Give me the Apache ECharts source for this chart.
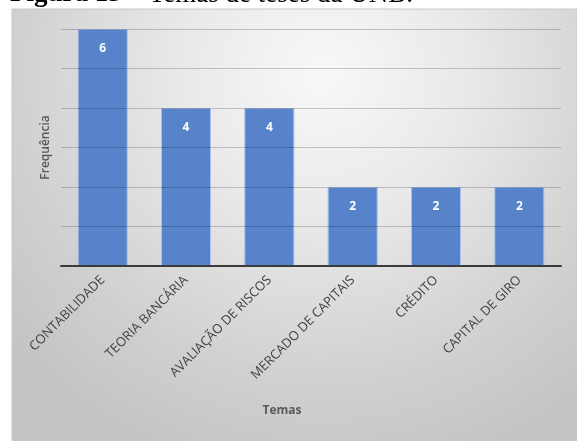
<!DOCTYPE html>
<html>
<head>
<meta charset="utf-8">
<script src="https://cdn.jsdelivr.net/npm/echarts@6/dist/echarts.min.js"></script>
<style>
  html, body { margin: 0; padding: 0; background: #ffffff; }
  #chart { width: 577px; height: 441px; }
</style>
</head>
<body>
<div id="chart"></div>
<script>
// Temas das teses e quantas vezes cada um aparece
const temas = ['CONTABILIDADE', 'TEORIA BANCÁRIA', 'AVALIAÇÃO DE RISCOS', 'MERCADO DE CAPITAIS', 'CRÉDITO', 'CAPITAL DE GIRO'];
const frequencia = [6, 4, 4, 2, 2, 2];

const chart = echarts.init(document.getElementById('chart'), null, { renderer: 'canvas' });

chart.setOption({
  animation: false,
  backgroundColor: '#ffffff',
  graphic: [
    {
      type: 'text',
      left: 10,
      top: -19,
      z: 10,
      style: {
        text: '{b|Figura 13} – Temas de teses da UNB.',
        font: '27px "Liberation Serif"',
        fill: '#000000',
        rich: {
          b: { fontFamily: 'Liberation Serif', fontSize: 27, fontWeight: 'bold', fill: '#000000' }
        }
      }
    },
    {
      type: 'rect',
      z: -10,
      shape: { x: 12, y: 9, width: 565, height: 432 },
      style: {
        fill: {
          type: 'radial', x: 0.55, y: 0.15, r: 0.95,
          colorStops: [
            { offset: 0, color: '#f8f8f8' },
            { offset: 0.35, color: '#e9e9e9' },
            { offset: 0.75, color: '#d0d0d0' },
            { offset: 1, color: '#c4c4c4' }
          ]
        },
        stroke: '#c8c8c8',
        lineWidth: 1
      }
    },
    {
      type: 'text',
      x: 282,
      y: 411,
      style: {
        text: 'Temas',
        font: 'bold 12px "Open Sans"',
        fill: '#595959',
        align: 'center',
        verticalAlign: 'middle'
      }
    }
  ],
  grid: { left: 61, right: 16, top: 29, bottom: 175, containLabel: false },
  xAxis: {
    type: 'category',
    data: temas,
    z: 4,
    axisLine: { lineStyle: { color: '#3a3a3a', width: 2 } },
    axisTick: { show: false },
    axisLabel: {
      rotate: 45,
      interval: 0,
      margin: 12,
      color: '#404040',
      fontSize: 13,
      fontFamily: 'Open Sans'
    }
  },
  yAxis: {
    type: 'value',
    min: 0,
    max: 6,
    interval: 1,
    z: 3,
    name: 'Frequência',
    nameLocation: 'middle',
    nameGap: 9,
    nameTextStyle: { color: '#595959', fontSize: 12, fontWeight: 600, fontFamily: 'Open Sans' },
    axisLabel: { show: false },
    axisLine: { show: false },
    axisTick: { show: false },
    splitLine: { lineStyle: { color: 'rgba(0,0,0,0.2)', width: 1 } }
  },
  series: [{
    type: 'bar',
    data: frequencia,
    barCategoryGap: '40%',
    itemStyle: { color: '#5683c9', borderColor: '#a9c2e8', borderWidth: 1 },
    label: {
      show: true,
      position: 'insideTop',
      distance: 14,
      color: '#ffffff',
      fontWeight: 'bold',
      fontSize: 12,
      fontFamily: 'Open Sans'
    }
  }]
});
</script>
</body>
</html>
